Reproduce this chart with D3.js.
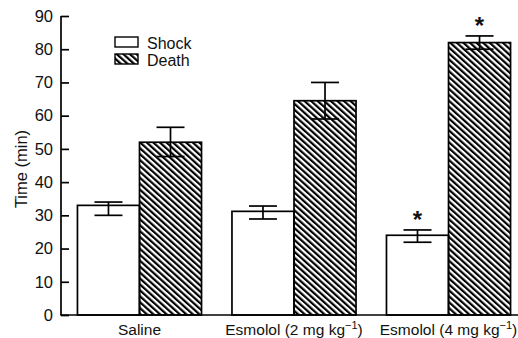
<!DOCTYPE html>
<html>
<head>
<meta charset="utf-8">
<script src="https://cdn.jsdelivr.net/npm/d3@7"></script>
<style>
  body { margin: 0; background: #fff; }
  text { font-family: "Liberation Sans", Arial, sans-serif; fill: #111; }
</style>
</head>
<body>
<svg id="chart" width="518" height="338"></svg>
<script>
// data
var groups = ['Saline', 'Esmolol (2 mg kg', 'Esmolol (4 mg kg'];
var groupSup = ['', '\u22121', '\u22121'];
var series = ['Shock', 'Death'];
var shockMean = [33, 31.2, 24];
var shockErrHi = [34, 32.8, 25.6];
var shockErrLo = [30, 28.9, 21.9];
var deathMean = [52, 64.5, 82];
var deathErrHi = [56.5, 70, 84];
var deathErrLo = [47.7, 59, 80];
var starred = [[false, false], [false, false], [true, true]];
var yTicks = [0, 10, 20, 30, 40, 50, 60, 70, 80, 90];

var width = 518, height = 338,
    margin = { top: 16, right: 0, bottom: 23, left: 61 };

var svg = d3.select('#chart');

var rows = [];
groups.forEach(function(g, i) {
    rows.push({ group: g, i: i, s: 'Shock', v: shockMean[i], hi: shockErrHi[i], lo: shockErrLo[i], star: starred[i][0] });
    rows.push({ group: g, i: i, s: 'Death', v: deathMean[i], hi: deathErrHi[i], lo: deathErrLo[i], star: starred[i][1] });
});

var y = d3.scaleLinear().domain([0, 90]).range([height - margin.bottom, margin.top]);
var x0 = d3.scaleBand().domain(groups).range([margin.left + 1, 526]).paddingInner(0.197).paddingOuter(0.1);
var x1 = d3.scaleBand().domain(series).range([0, x0.bandwidth()]);

// hatch pattern
var defs = svg.append('defs');
defs.append('pattern')
    .attr('id', 'hatch')
    .attr('patternUnits', 'userSpaceOnUse')
    .attr('width', 4.4).attr('height', 4.4)
    .attr('patternTransform', 'rotate(-48)')
  .append('line')
    .attr('x1', 1.1).attr('y1', -1).attr('x2', 1.1).attr('y2', 6)
    .attr('stroke', '#000').attr('stroke-width', 2.2);

// bars
var bar = svg.append('g').selectAll('g.bar')
    .data(rows).enter().append('g').attr('class', 'bar');

bar.append('rect')
    .attr('x', function(d) { return x0(d.group) + x1(d.s); })
    .attr('width', x1.bandwidth())
    .attr('y', function(d) { return y(d.v); })
    .attr('height', function(d) { return y(0) - y(d.v); })
    .attr('fill', function(d) { return d.s === 'Shock' ? '#fff' : 'url(#hatch)'; })
    .attr('stroke', '#000').attr('stroke-width', 1.7);

// error bars
var cap = 14;
bar.each(function(d) {
    var g = d3.select(this), cx = x0(d.group) + x1(d.s) + x1.bandwidth() / 2;
    g.append('line').attr('x1', cx).attr('x2', cx).attr('y1', y(d.hi)).attr('y2', y(d.lo));
    g.append('line').attr('x1', cx - cap).attr('x2', cx + cap).attr('y1', y(d.hi)).attr('y2', y(d.hi));
    g.append('line').attr('x1', cx - cap).attr('x2', cx + cap).attr('y1', y(d.lo)).attr('y2', y(d.lo));
    g.selectAll('line').attr('stroke', '#000').attr('stroke-width', 1.7);
    if (d.star) {
        g.append('text').attr('x', cx).attr('y', y(d.hi) - 2)
            .attr('text-anchor', 'middle').attr('font-size', 24).attr('font-weight', 'bold').text('*');
    }
});

// y axis
var yAxis = svg.append('g')
    .attr('transform', 'translate(' + margin.left + ',0)')
    .call(d3.axisLeft(y).tickValues(yTicks).tickSize(-8).tickPadding(8));
yAxis.select('.domain').attr('stroke-width', 1.7).attr('d', 'M0,' + y(90) + 'V' + y(0));
yAxis.selectAll('.tick line').attr('stroke-width', 1.7);
yAxis.selectAll('.tick text').attr('font-size', 16.5).attr('font-family', '"Liberation Sans", Arial, sans-serif').attr('fill', '#111');

// x axis line
svg.append('line')
    .attr('x1', margin.left - 0.8).attr('x2', width)
    .attr('y1', y(0)).attr('y2', y(0))
    .attr('stroke', '#000').attr('stroke-width', 1.7);

// x labels
var xl = svg.append('g').selectAll('text').data(groups).enter().append('text')
    .attr('x', function(d) { return x0(d) + x0.bandwidth() / 2; })
    .attr('y', 335)
    .attr('text-anchor', 'middle')
    .attr('font-size', 15.5);
xl.append('tspan').text(function(d) { return d; });
xl.append('tspan').attr('dy', -6).attr('font-size', 11)
    .text(function(d, i) { return groupSup[i]; });
xl.append('tspan').attr('dy', 6)
    .text(function(d, i) { return groupSup[i] ? ')' : ''; });

// y label
svg.append('text')
    .attr('transform', 'translate(27,' + 169 + ') rotate(-90)')
    .attr('text-anchor', 'middle')
    .attr('font-size', 16.5)
    .text('Time (min)');

// legend
var legend = svg.append('g').selectAll('g').data(series).enter().append('g')
    .attr('transform', function(d, i) { return 'translate(115,' + (37 + i * 17) + ')'; });
legend.append('rect')
    .attr('width', 23).attr('height', 10)
    .attr('fill', function(d) { return d === 'Shock' ? '#fff' : 'url(#hatch)'; })
    .attr('stroke', '#000').attr('stroke-width', 1.4);
legend.append('text')
    .attr('x', 32).attr('y', 11.5)
    .attr('font-size', 16)
    .text(function(d) { return d; });
</script>
</body>
</html>
